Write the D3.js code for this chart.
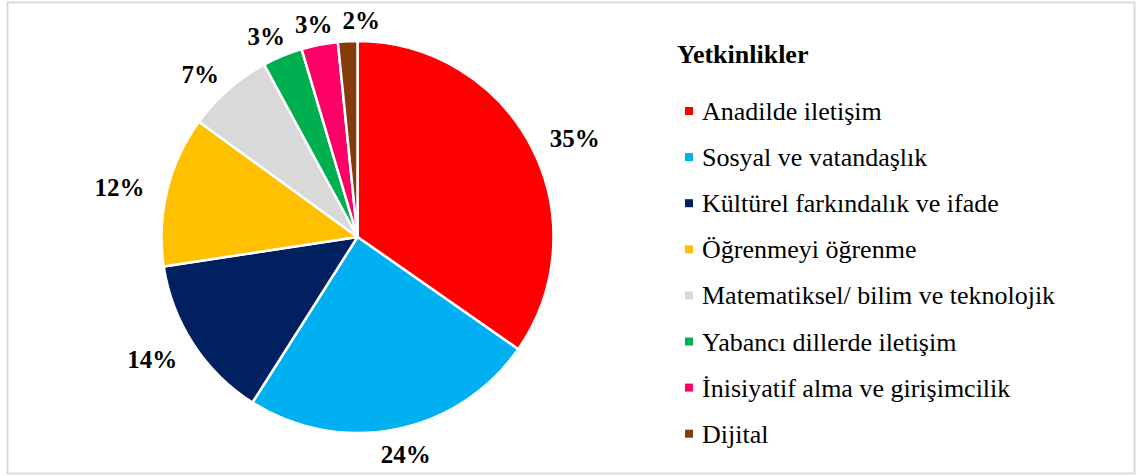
<!DOCTYPE html>
<html>
<head>
<meta charset="utf-8">
<script src="https://cdn.jsdelivr.net/npm/d3@7"></script>
<style>
  body { margin: 0; background: #fff; }
</style>
</head>
<body>
<div id="chart"></div>
<script>
// pie of competencies (Yetkinlikler)
const categories = [
  "Anadilde iletişim",
  "Sosyal ve vatandaşlık",
  "Kültürel farkındalık ve ifade",
  "Öğrenmeyi öğrenme",
  "Matematiksel/ bilim ve teknolojik",
  "Yabancı dillerde iletişim",
  "İnisiyatif alma ve girişimcilik",
  "Dijital"
];
const values = [34.7, 24.3, 13.6, 12.4, 7.1, 3.3, 3.0, 1.6];
const colors = ["#FF0000", "#00B0F0", "#002060", "#FFC000", "#D9D9D9", "#00B050", "#FF0066", "#843C0C"];
const legendTitle = "Yetkinlikler";

const width = 1137, height = 476;
const cx = 357.5, cy = 237, r = 196;
const serif = "'Liberation Serif', 'Times New Roman', Times, serif";

const data = categories.map((c, i) => ({name: c, value: values[i], color: colors[i]}));

let svg = d3.select("#chart")
  .append("svg")
  .attr("width", width)
  .attr("height", height)
  .attr("font-family", serif);

// border of the chart area
svg.append("rect")
  .attr("x", 7.5).attr("y", 2.5)
  .attr("width", 1127).attr("height", 471)
  .attr("fill", "none")
  .attr("stroke", "#d9d9d9")
  .attr("stroke-width", 2);

const pie = d3.pie().value(d => d.value).sort(null);
const arc = d3.arc().innerRadius(0).outerRadius(r);
const arcs = pie(data);

const g = svg.append("g").attr("transform", `translate(${cx},${cy})`);

g.selectAll("path")
  .data(arcs)
  .join("path")
  .attr("d", arc)
  .attr("fill", d => d.data.color)
  .attr("stroke", "#fff")
  .attr("stroke-width", 2.5)
  .attr("stroke-linejoin", "round");

// labels outside end: box pushed off the edge along the mid angle
const rl = 209, hh = 10.5, pad = 11;
const labels = g.selectAll("text.pct")
  .data(arcs)
  .join("text")
  .attr("class", "pct")
  .attr("font-family", serif)
  .attr("font-size", 25)
  .attr("font-weight", "bold")
  .attr("text-anchor", "middle")
  .attr("fill", "#000")
  .text(d => Math.round(d.data.value) + "%");

let prevRight = null;
labels.each(function(d, i) {
  const w = this.getComputedTextLength();
  const a = (d.startAngle + d.endAngle) / 2;
  const s = Math.sin(a), c = -Math.cos(a);
  let px = rl * s + s * (w / 2 + pad);
  const py = rl * c + c * hh + 2;
  // nudge right if it runs into the label before it (top, tiny slices)
  if (prevRight !== null && c < -0.9 && px - w / 2 < prevRight + 10) {
    px = prevRight + 10 + w / 2;
  }
  prevRight = c < -0.9 ? px + w / 2 : null;
  d3.select(this).attr("x", px).attr("y", py + 9);
});

// legend
const legend = svg.append("g");
legend.append("text")
  .attr("x", 677).attr("y", 63)
  .attr("font-family", serif)
  .attr("font-size", 26)
  .attr("font-weight", "bold")
  .text(legendTitle);

const item = legend.selectAll("g.item")
  .data(data)
  .join("g")
  .attr("class", "item")
  .attr("transform", (d, i) => `translate(0,${120 + i * 46.1})`);

item.append("rect")
  .attr("x", 685).attr("y", -13)
  .attr("width", 8).attr("height", 8)
  .attr("fill", d => d.color);

item.append("text")
  .attr("x", 702).attr("y", 0)
  .attr("font-family", serif)
  .attr("font-size", 26)
  .text(d => d.name);
</script>
</body>
</html>
